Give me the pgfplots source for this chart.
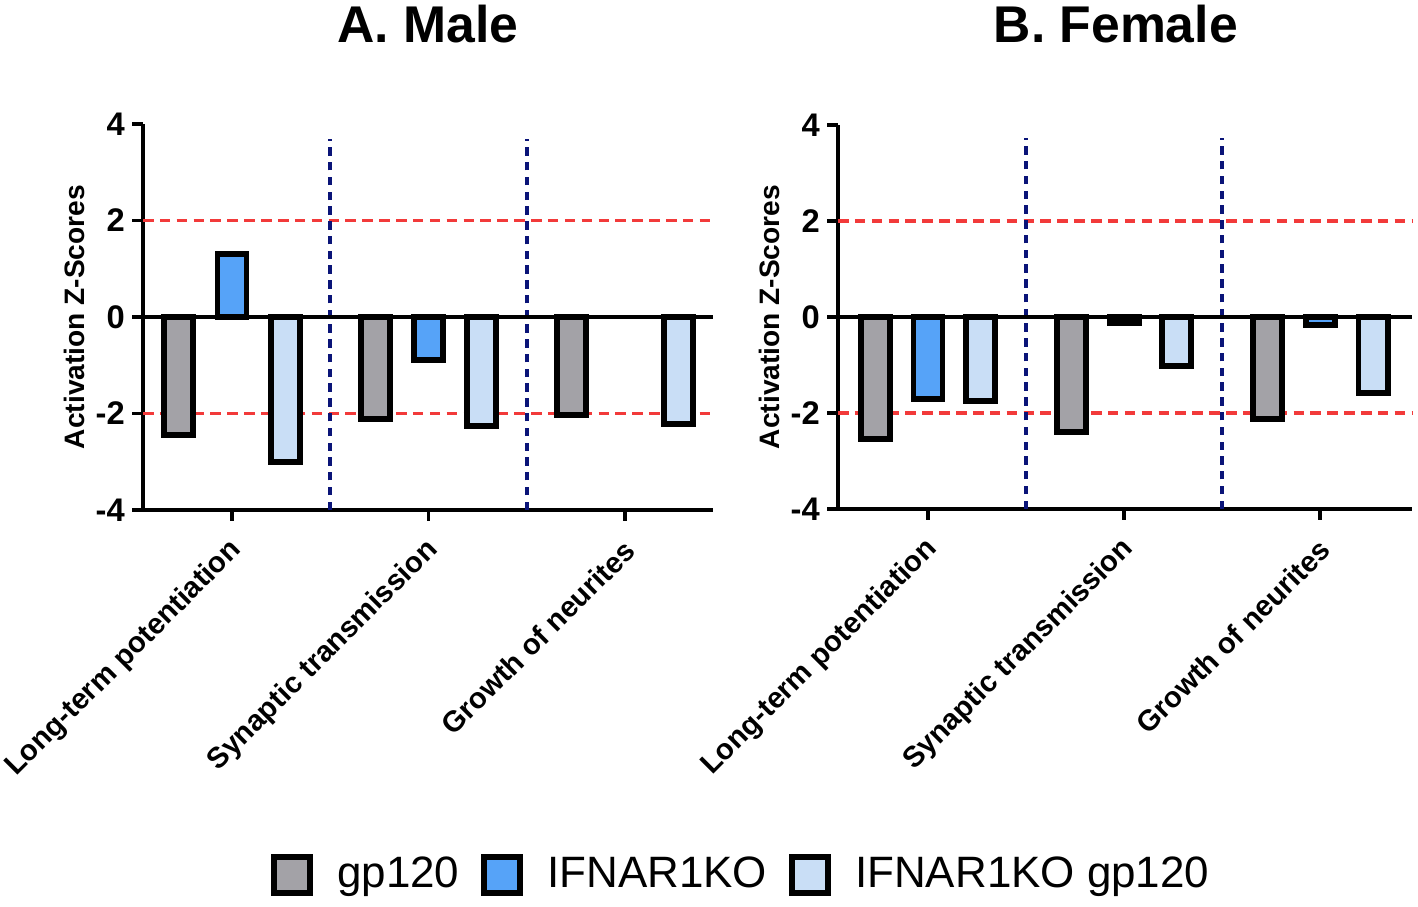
\documentclass[border=0pt]{standalone}
\usepackage{fontspec}
\setmainfont{Liberation Sans}
\usepackage{pgfplots}
\pgfplotsset{compat=1.18}
\definecolor{cgray}{HTML}{A3A2A7}
\definecolor{cblue}{HTML}{56A3F8}
\definecolor{clight}{HTML}{C9DEF6}
\definecolor{cnavy}{HTML}{0A1478}
\definecolor{cred}{HTML}{F23A3A}
\pgfplotsset{
 every axis title shift=0pt,
 panel/.style={
  scale only axis,
  ymin=-4, ymax=4, ytick={-4,-2,0,2,4}, yticklabels={-4,-2,0,2,4},
  xtick={0,1,2}, xticklabels={Long-term potentiation, Synaptic transmission, Growth of neurites},
  axis x line*=bottom, axis y line*=left,
  axis line style={line width=1.1pt,-},
  tick style={line width=1.1pt, black},
  major tick length=1.1mm, tick align=outside,
  yticklabel style={font=\bfseries\fontsize{9.3}{11}\selectfont, inner sep=1pt, xshift=-0.3mm},
  xticklabel style={font=\bfseries\fontsize{8.3}{10}\selectfont, rotate=45, anchor=east, inner sep=1pt, xshift=-1.0mm, yshift=-2.1mm},
  ylabel={Activation Z-Scores},
  every axis y label/.style={at={(axis description cs:0,0.5)}, xshift=-6.9mm, rotate=90, anchor=center, font=\bfseries\fontsize{8}{10}\selectfont},
  title style={font=\bfseries\fontsize{14.7}{18}\selectfont, anchor=center},
  bar width=2.9mm,
  clip=false,
 },
 refline/.style={cred, dash pattern=on 3pt off 1.8pt, line width=1.1pt, forget plot},
 divline/.style={cnavy, dash pattern=on 2.4pt off 1.8pt, line width=1.2pt, forget plot},
 barstyle/.style={ybar, bar shift=0pt, draw=black, line width=1.7pt, fill=#1,
   legend image code/.code={\draw[draw=black, line width=1.7pt, fill=#1] (0mm,-1.8mm) rectangle (3.6mm,1.8mm);}},
}
\begin{document}
\begin{tikzpicture}
\useasboundingbox (0,0) rectangle (141.8mm,90.7mm);
% ---------------- Male ----------------
\begin{axis}[panel, at={(14.3mm,39.7mm)}, anchor=south west,
  width=57mm, height=38.6mm, xmin=-0.453, xmax=2.448,
  title={A. Male}, title style={at={(axis description cs:0.5,1.259)}},
  legend style={at={(axis description cs:1.054,-0.9456)}, anchor=center, draw=none, fill=none,
    legend columns=3, font=\fontsize{12.5}{14}\selectfont,
    /tikz/every odd column/.append style={column sep=1.7mm},
    /tikz/every even column/.append style={column sep=1.5mm}},
]
\addplot[refline] coordinates {(-0.453,2) (2.448,2)};
\addplot[refline] coordinates {(-0.453,-2) (2.448,-2)};
\addplot[divline] coordinates {(0.5,-4) (0.5,3.68)};
\addplot[divline] coordinates {(1.5,-4) (1.5,3.68)};
\addplot[barstyle=cgray] coordinates {(-0.27,-2.45) (0.73,-2.12) (1.73,-2.03)};
\addlegendentry{gp120}
\addplot[barstyle=cblue] coordinates {(0,1.3) (1,-0.9)};
\addlegendentry{IFNAR1KO}
\addplot[barstyle=clight] coordinates {(0.27,-3.0) (1.27,-2.25) (2.27,-2.22)};
\addlegendentry{IFNAR1KO gp120}
\addplot[black, line width=1.1pt, forget plot] coordinates {(-0.453,0) (2.448,0)};
\end{axis}
% ---------------- Female ----------------
\begin{axis}[panel, at={(83.8mm,39.8mm)}, anchor=south west,
  width=57.4mm, height=38.4mm, xmin=-0.459, xmax=2.469,
  title={B. Female}, title style={at={(axis description cs:0.484,1.263)}},
]
\addplot[refline] coordinates {(-0.459,2) (2.469,2)};
\addplot[refline] coordinates {(-0.459,-2) (2.469,-2)};
\addplot[divline] coordinates {(0.5,-4) (0.5,3.72)};
\addplot[divline] coordinates {(1.5,-4) (1.5,3.72)};
\addplot[barstyle=cgray] coordinates {(-0.27,-2.55) (0.73,-2.4) (1.73,-2.12)};
\addplot[barstyle=cblue] coordinates {(0,-1.7) (1,-0.13) (2,-0.17)};
\addplot[barstyle=clight] coordinates {(0.27,-1.75) (1.27,-1.02) (2.27,-1.58)};
\addplot[black, line width=1.1pt, forget plot] coordinates {(-0.459,0) (2.469,0)};
\end{axis}
\end{tikzpicture}
\end{document}
